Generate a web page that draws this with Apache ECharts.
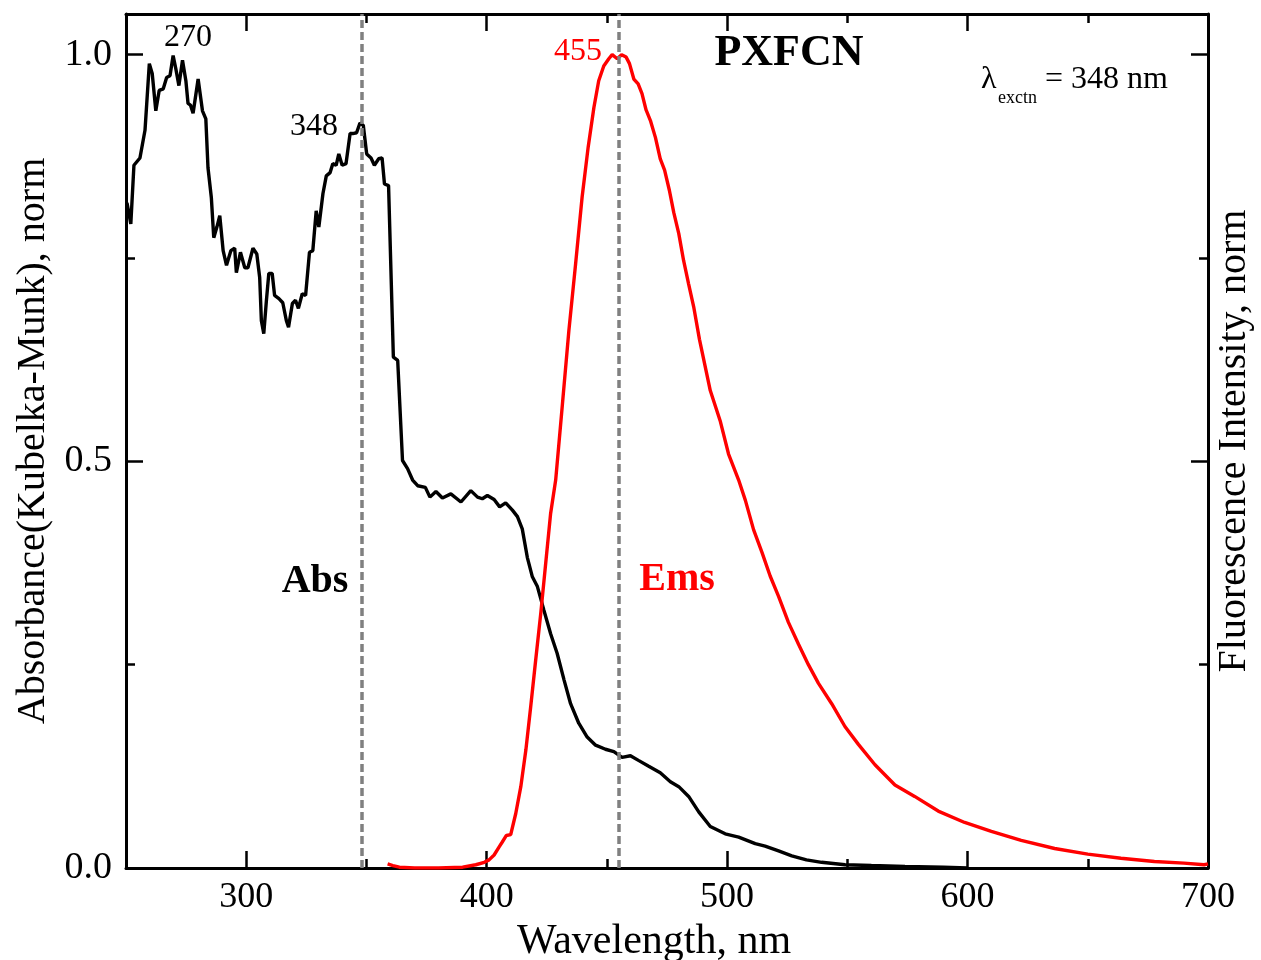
<!DOCTYPE html>
<html>
<head>
<meta charset="utf-8">
<script src="https://cdn.jsdelivr.net/npm/echarts@6/dist/echarts.min.js"></script>
<style>
html,body{margin:0;padding:0;background:#fff;}
#chart{width:1261px;height:960px;}
</style>
</head>
<body>
<div id="chart"></div>
<script>
// Absorbance (Kubelka-Munk), normalised
const absWl = [250.4,252,253.3,255.8,257.9,259.7,260.9,262.4,263.8,265.5,266.9,268.3,269.6,270.7,272,273.5,274.9,275.8,276.8,277.9,280,281.8,283.2,284.1,285.5,286.5,287.8,289,290.4,291.8,293.6,295.2,295.9,297.6,299.4,300.7,302.8,304.4,305.6,306.3,307.3,308.4,309.4,310.8,311.8,313.6,315.2,316.7,317.6,319.2,320.5,321.7,323.3,324.7,326.3,327.7,329.1,330.2,331.9,333.3,334.9,336,337.4,338.5,339.9,341.5,343.2,344.3,345.9,347.3,348.7,350.1,351.9,353.3,355.1,356.5,357.5,359.2,361.2,363,365,367.1,369.2,371.3,374.5,376.4,378.9,381.6,385.1,389.3,393.4,396.2,398.2,400.3,403.1,405.4,407.9,410.7,412.8,414.8,416.9,419,421.1,423.8,426.6,429.3,432.2,434.9,438.3,441.8,445.3,449.4,452.9,456.3,459.8,463.3,467.4,472.2,476.4,479.9,484,488.2,493,499.2,504.8,511.7,515.8,521.4,526.9,533,539.3,549,560,574,590,600];
const absVal = [0.818,0.792,0.864,0.873,0.907,0.989,0.977,0.931,0.956,0.958,0.972,0.974,0.999,0.983,0.962,0.993,0.968,0.940,0.938,0.928,0.970,0.931,0.921,0.861,0.824,0.775,0.788,0.802,0.759,0.741,0.759,0.762,0.732,0.757,0.738,0.738,0.762,0.755,0.726,0.673,0.657,0.698,0.731,0.731,0.704,0.700,0.695,0.673,0.665,0.694,0.698,0.688,0.706,0.704,0.757,0.759,0.808,0.788,0.829,0.851,0.855,0.866,0.864,0.878,0.864,0.866,0.903,0.903,0.904,0.916,0.913,0.878,0.873,0.864,0.872,0.873,0.841,0.839,0.628,0.624,0.501,0.491,0.477,0.470,0.468,0.456,0.463,0.455,0.460,0.450,0.464,0.456,0.454,0.458,0.453,0.444,0.449,0.440,0.432,0.417,0.382,0.358,0.346,0.317,0.288,0.264,0.231,0.202,0.178,0.161,0.151,0.146,0.143,0.136,0.138,0.132,0.125,0.117,0.106,0.100,0.088,0.069,0.051,0.042,0.038,0.030,0.027,0.021,0.015,0.010,0.007,0.004,0.003,0.002,0.001,0.000];

// Fluorescence emission, normalised
const emsWl = [358.8,361,363.7,370,380,390,395.5,399,401,403.1,405.2,406.5,408.2,410,412.1,414.2,416.3,418.3,420.4,422.5,424.6,426.6,428.7,431.5,434.2,437,439.7,442.2,444.6,446.6,448.7,450.8,452.2,454.3,456.1,458,459.4,461.2,463,464.6,466.3,468.1,470.2,472.2,474,476,477.8,479.9,481.9,484,486.1,488.5,493,497.1,500.6,504.8,507.6,511,514.5,517.9,521.4,525.5,529.7,533.8,538,543.5,549,554.6,561.5,569.8,578,587.8,598.8,609.9,622.3,636.2,650,663.8,677.7,690,698.4,700];
const emsVal = [0.005,0.003,0.001,0.000,0.000,0.001,0.004,0.007,0.010,0.016,0.026,0.032,0.040,0.041,0.067,0.100,0.145,0.198,0.256,0.313,0.376,0.436,0.477,0.570,0.661,0.743,0.825,0.886,0.935,0.968,0.986,0.995,1.000,0.995,1.000,0.997,0.989,0.970,0.964,0.952,0.932,0.919,0.898,0.872,0.858,0.833,0.806,0.780,0.747,0.718,0.690,0.650,0.587,0.550,0.509,0.477,0.452,0.416,0.388,0.359,0.334,0.302,0.275,0.250,0.227,0.202,0.174,0.152,0.127,0.102,0.088,0.070,0.056,0.045,0.034,0.024,0.017,0.012,0.008,0.006,0.004,0.005];

const xMajorTicks = [300,400,500,600,700];
const xMinorTicks = [350,450,550,650];
const yMajorTicks = [0,0.5,1.0];
const yMinorTicks = [0.25,0.75];
const markedWavelengths = [348,455];

const serif = "'Liberation Serif','Times New Roman',serif";
const absData = absWl.map((w,i)=>[w,absVal[i]]);
const emsData = emsWl.map((w,i)=>[w,emsVal[i]]);

const X_MIN=250, X_MAX=700, Y_MIN=0, Y_MAX=1.05;
const lineW = 3;

function xAx(pos, ticks, len, showLine, labels, extra){
  return Object.assign({
    type:'value', position:pos, min:X_MIN, max:X_MAX,
    axisLine:{show:showLine, onZero:false, lineStyle:{color:'#000',width:lineW}},
    axisTick:{show:true, inside:true, length:len, customValues:ticks, lineStyle:{color:'#000',width:2.5}},
    axisLabel:labels ? {show:true, customValues:ticks, color:'#000', fontSize:36, fontFamily:serif, margin:12} : {show:false},
    splitLine:{show:false}
  }, extra||{});
}
function yAx(pos, ticks, len, showLine, labels, extra){
  return Object.assign({
    type:'value', position:pos, min:Y_MIN, max:Y_MAX,
    axisLine:{show:showLine, onZero:false, lineStyle:{color:'#000',width:lineW}},
    axisTick:{show:true, inside:true, length:len, customValues:ticks, lineStyle:{color:'#000',width:2.5}},
    axisLabel:labels ? {show:true, customValues:ticks, color:'#000', fontSize:38, fontFamily:serif, margin:14,
      formatter:(v)=>Number(v).toFixed(1)} : {show:false},
    splitLine:{show:false}
  }, extra||{});
}

const chart = echarts.init(document.getElementById('chart'), null, {renderer:'canvas'});
const option = {
  animation:false,
  backgroundColor:'#fff',
  grid:{left:126, right:53, top:14, bottom:92, containLabel:false, outerBoundsMode:'none'},
  xAxis:[
    xAx('bottom', xMajorTicks, 17, true, true, {
      name:'Wavelength, nm', nameLocation:'middle', nameGap:40,
      nameTextStyle:{color:'#000', fontSize:42, fontFamily:serif, padding:[0,26,0,0]}
    }),
    xAx('bottom', xMinorTicks, 9, false, false),
    xAx('top', xMajorTicks, 17, true, false),
    xAx('top', xMinorTicks, 9, false, false)
  ],
  yAxis:[
    yAx('left', yMajorTicks, 17, true, true, {
      name:'Absorbance(Kubelka-Munk), norm', nameLocation:'middle', nameRotate:90, nameGap:68,
      nameTextStyle:{color:'#000', fontSize:40, fontFamily:serif}
    }),
    yAx('right', yMajorTicks, 17, true, false, {
      name:'Fluorescence Intensity, norm', nameLocation:'middle', nameRotate:90, nameGap:6,
      nameTextStyle:{color:'#000', fontSize:40, fontFamily:serif}
    }),
    yAx('left', yMinorTicks, 9, false, false),
    yAx('right', yMinorTicks, 9, false, false)
  ],
  series:[
    {
      name:'Abs', type:'line', xAxisIndex:0, yAxisIndex:0, data:absData,
      showSymbol:false, symbol:'none', lineStyle:{color:'#000', width:3.4}, z:3,
      markLine:{
        silent:true, symbol:['none','none'], label:{show:false},
        lineStyle:{color:'#808080', type:[8,4], width:3.5},
        data: markedWavelengths.map(w=>({xAxis:w}))
      }
    },
    {
      name:'Ems', type:'line', xAxisIndex:0, yAxisIndex:1, data:emsData,
      showSymbol:false, symbol:'none', lineStyle:{color:'#ff0000', width:3.4}, z:4
    }
  ],
  graphic:[
    {type:'text', style:{text:'270', x:188, y:38, fill:'#000', fontSize:32, fontFamily:serif, align:'center', verticalAlign:'middle'}},
    {type:'text', style:{text:'348', x:314, y:127, fill:'#000', fontSize:32, fontFamily:serif, align:'center', verticalAlign:'middle'}},
    {type:'text', style:{text:'455', x:578, y:52, fill:'#ff0000', fontSize:32, fontFamily:serif, align:'center', verticalAlign:'middle'}},
    {type:'text', style:{text:'PXFCN', x:789, y:54, fill:'#000', fontSize:44, fontWeight:'bold', fontFamily:serif, align:'center', verticalAlign:'middle'}},
    {type:'text', style:{text:'λ', x:981, y:80, fill:'#000', fontSize:32, fontFamily:serif, align:'left', verticalAlign:'middle'}},
    {type:'text', style:{text:'exctn', x:998, y:98, fill:'#000', fontSize:18, fontFamily:serif, align:'left', verticalAlign:'middle'}},
    {type:'text', style:{text:'= 348 nm', x:1045, y:80, fill:'#000', fontSize:32, fontFamily:serif, align:'left', verticalAlign:'middle'}},
    {type:'text', style:{text:'Abs', x:315, y:582, fill:'#000', fontSize:40, fontWeight:'bold', fontFamily:serif, align:'center', verticalAlign:'middle'}},
    {type:'text', style:{text:'Ems', x:677, y:580, fill:'#ff0000', fontSize:40, fontWeight:'bold', fontFamily:serif, align:'center', verticalAlign:'middle'}}
  ]
};
chart.setOption(option);
</script>
</body>
</html>
